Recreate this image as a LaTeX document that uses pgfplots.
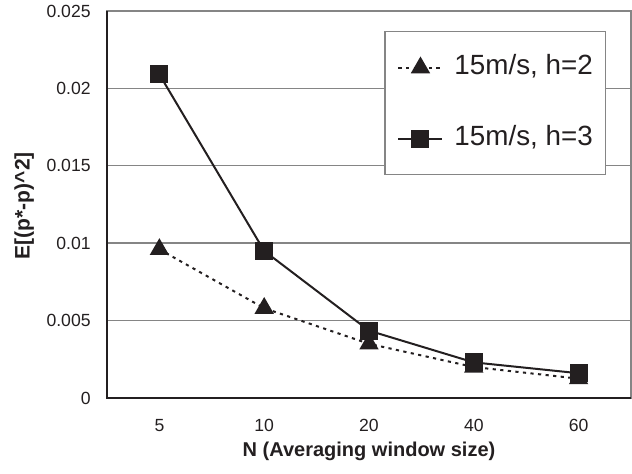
\documentclass[border=0pt]{standalone}
\usepackage{fontspec}
\setmainfont{Liberation Sans}
\usepackage{pgfplots}
\pgfplotsset{compat=1.18}
\definecolor{ink}{HTML}{231F20}
\definecolor{gridgray}{HTML}{858585}
\begin{document}
\begin{tikzpicture}
\useasboundingbox (-53.5pt,-38pt) rectangle (262.5pt,199pt);
\begin{axis}[
 at={(0pt,0pt)}, anchor=south west,
 scale only axis, width=262pt, height=193.5pt,
 xmin=-0.5, xmax=4.5, ymin=0, ymax=0.025,
 xtick={0,1,2,3,4}, xticklabels={5,10,20,40,60},
 ytick={0,0.005,0.01,0.015,0.02,0.025},
 yticklabels={0,0.005,0.01,0.015,0.02,0.025},
 major tick length=0pt,
 ymajorgrids, grid style={gridgray, line width=0.7pt},
 axis line style={gridgray, line width=0.7pt},
 ticklabel style={font=\fontsize{8.8}{10}\selectfont, text=ink, inner sep=0pt},
 yticklabel style={anchor=east, xshift=-8pt},
 xticklabel style={anchor=center, yshift=-13.8pt},
 xlabel={N (Averaging window size)},
 ylabel={E[(p*-p)\textasciicircum 2]},
 xlabel style={font=\bfseries\fontsize{10}{12}\selectfont, text=ink, at={(axis description cs:0.5,-0.137)}, anchor=center},
 ylabel style={font=\bfseries\fontsize{10.5}{12}\selectfont, text=ink, at={(axis description cs:-0.158,0.497)}, anchor=center},
 clip=false,
 legend cell align=left,
 legend style={at={(1,1)}, anchor=north east, xshift=-12.5pt, yshift=-10pt,
   draw=gridgray, line width=0.7pt, inner xsep=6.25pt, inner ysep=11.5pt,
   row sep=22.5pt, font=\fontsize{13.9}{16}\selectfont, text=ink,
   nodes={inner sep=0pt, text height=10pt, text depth=3pt},
   /tikz/every odd column/.append style={column sep=5.5pt}},
 legend image code/.code={\draw[mark repeat=2,mark phase=2,#1] plot coordinates {(0pt,0pt)(11pt,0pt)(22pt,0pt)};},
]
\addplot[ink, line width=1pt, dash pattern=on 1.6pt off 2.2pt, mark=triangle*, mark size=4.6pt, mark options={solid}]
 coordinates {(0,0.0096)(1,0.0058)(2,0.0035)(3,0.0020)(4,0.00125)};
\addlegendentry{15m/s, h=2}
\addplot[ink, line width=1pt, mark=square*, mark size=4pt]
 coordinates {(0,0.0209)(1,0.0095)(2,0.00435)(3,0.0023)(4,0.0016)};
\addlegendentry{15m/s, h=3}
\draw[ink, line width=0.7pt] (rel axis cs:0,1) -- (rel axis cs:0,0) -- (rel axis cs:1,0);
\end{axis}
\end{tikzpicture}
\end{document}
